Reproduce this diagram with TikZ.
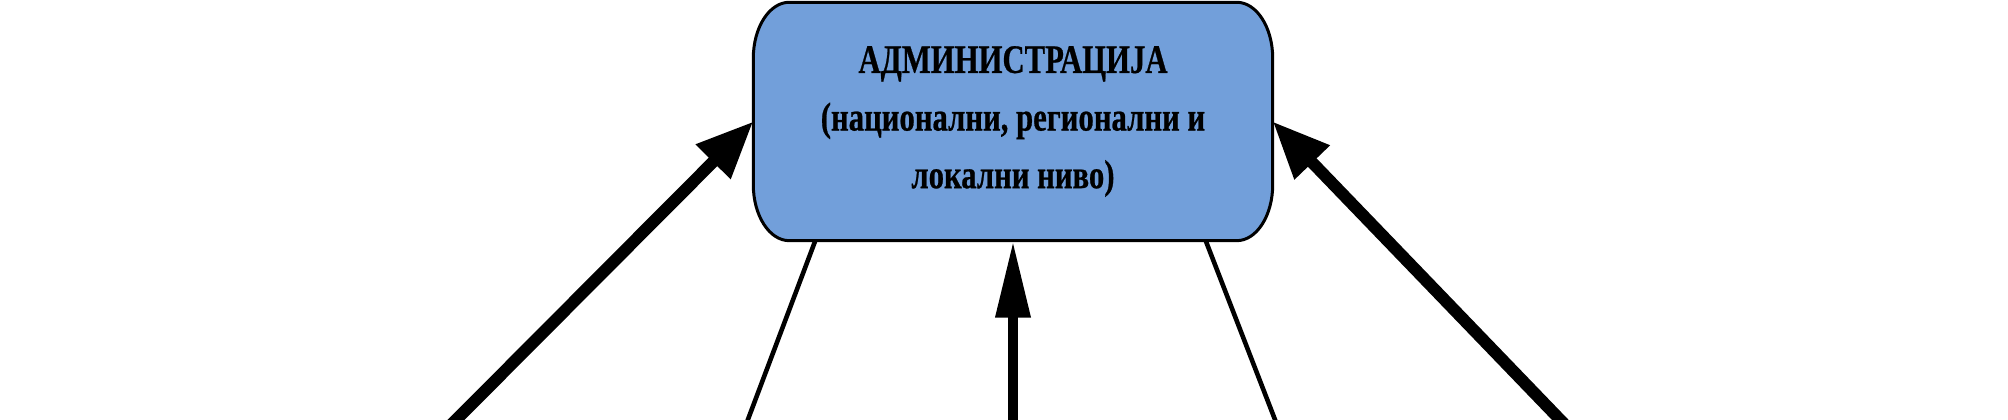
\documentclass[tikz,border=0pt]{standalone}
\usepackage{fontspec}
\setmainfont{Liberation Serif}
\newfontfamily\narrowfont[FakeStretch=0.76, FakeBold=0.6]{Liberation Serif}
\usetikzlibrary{arrows.meta,backgrounds}
\definecolor{admblue}{RGB}{114,159,218}

\begin{document}
\begin{tikzpicture}[
  admbox/.style={minimum width=5.18cm, minimum height=2.37cm, inner sep=0pt, align=center,
    font=\narrowfont\bfseries\fontsize{11.5}{16.4}\selectfont},
  boxline/.style={draw=black, fill=admblue, line width=0.03cm},
  bigarrow/.style={line width=0.12cm, -{Triangle[length=0.57cm,width=0.46cm]}},
  midarrow/.style={line width=0.1cm, -{Triangle[length=0.77cm,width=0.33cm]}},
  thinlink/.style={line width=1.3pt}
]
\useasboundingbox (0,0) rectangle (20.08,4.2);

\node[admbox] (adm) at (10.13,2.985) {АДМИНИСТРАЦИЈА\\(национални, регионални и\\локални ниво)};
\begin{scope}[on background layer]
\draw[boxline] ([xshift=0.36cm]adm.north west) -- ([xshift=-0.36cm]adm.north east)
  arc[start angle=90, end angle=0, x radius=0.36cm, y radius=0.56cm]
  -- ([yshift=0.56cm]adm.south east)
  arc[start angle=0, end angle=-90, x radius=0.36cm, y radius=0.56cm]
  -- ([xshift=0.36cm]adm.south west)
  arc[start angle=270, end angle=180, x radius=0.36cm, y radius=0.56cm]
  -- ([yshift=-0.56cm]adm.north west)
  arc[start angle=180, end angle=90, x radius=0.36cm, y radius=0.56cm] -- cycle;
\end{scope}

% free ends below the bottom edge
\coordinate (bl) at (4.46,-0.1);
\coordinate (tl) at (7.44,-0.1);
\coordinate (mid) at (10.13,-0.1);
\coordinate (tr) at (12.79,-0.1);
\coordinate (br) at (15.7,-0.1);

\draw[bigarrow] (bl) -- (adm.west);
\draw[bigarrow] (br) -- (adm.east);
\draw[midarrow] (mid) -- (adm.south);
\draw[thinlink] ([xshift=0.62cm]adm.south west) -- (tl);
\draw[thinlink] ([xshift=-0.67cm]adm.south east) -- (tr);
\end{tikzpicture}
\end{document}
